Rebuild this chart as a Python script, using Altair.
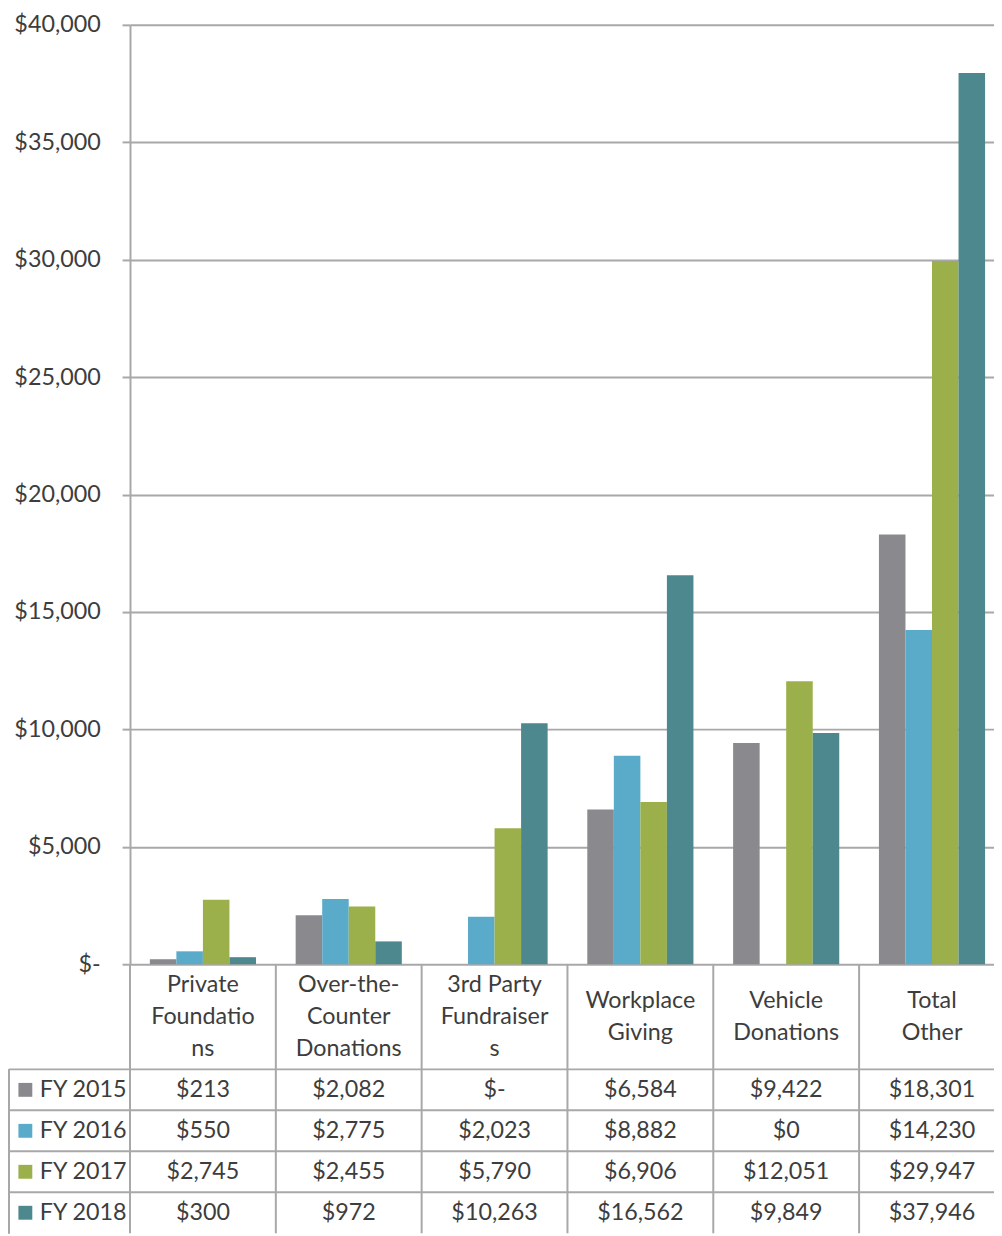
import altair as alt
import pandas as pd

# ---- data ----
series = ["FY 2015", "FY 2016", "FY 2017", "FY 2018"]
categories = ["Private Foundations", "Over-the-Counter Donations", "3rd Party Fundraisers",
              "Workplace Giving", "Vehicle Donations", "Total Other"]
header_labels = ["Private\nFoundatio\nns", "Over-the-\nCounter\nDonations", "3rd Party\nFundraiser\ns",
                 "Workplace\nGiving", "Vehicle\nDonations", "Total\nOther"]
fy2015 = [213, 2082, None, 6584, 9422, 18301]
fy2016 = [550, 2775, 2023, 8882, 0, 14230]
fy2017 = [2745, 2455, 5790, 6906, 12051, 29947]
fy2018 = [300, 972, 10263, 16562, 9849, 37946]
y_ticks = [0, 5000, 10000, 15000, 20000, 25000, 30000, 35000, 40000]
colors = ["#8a8a8e", "#5aabc9", "#9bb04b", "#4c888e"]

rows = []
for s, vals in zip(series, [fy2015, fy2016, fy2017, fy2018]):
    for c, v in zip(categories, vals):
        rows.append({"category": c, "series": s, "value": v,
                     "label": "$-" if v is None else "${:,.0f}".format(v)})
df = pd.DataFrame(rows)
cat_df = pd.DataFrame({"category": categories, "header": header_labels,
                       "nlines": [h.count("\n") + 1 for h in header_labels]})
ser_df = pd.DataFrame({"series": series})

# ---- layout ----
W, H = 871, 947
STEP = 147
XR = STEP * len(categories)
PI = 40 / STEP
PO = 20 / STEP
HEADER_H = 106
ROW_H = 41.3
TABLE_H = HEADER_H + ROW_H * 4
LEFT = 122
LH = 32.5
FONT = "Lato"
FS = 23.5
TXT = "#3d3d3d"
GRID = "#a8a8a8"

x_scale = alt.Scale(domain=categories, range=[0, XR], paddingInner=PI, paddingOuter=PO)
r0 = H + HEADER_H + ROW_H / 2
row_scale = alt.Scale(type="point", domain=series, range=[r0, r0 + 3 * ROW_H], padding=0)
color_scale = alt.Scale(domain=series, range=colors)

bars = alt.Chart(df).mark_bar().encode(
    x=alt.X("category:N", scale=x_scale, axis=None),
    xOffset=alt.XOffset("series:N", scale=alt.Scale(domain=series, paddingInner=0, paddingOuter=0)),
    y=alt.Y("value:Q", scale=alt.Scale(domain=[0, 40000], nice=False, zero=True),
            axis=alt.Axis(values=y_ticks, title=None, grid=True, gridColor=GRID, gridWidth=2,
                          domainColor=GRID, domainWidth=2, tickColor=GRID, tickWidth=2, tickSize=8,
                          labelFont=FONT, labelFontSize=FS, labelColor=TXT, labelPadding=22,
                          labelExpr="datum.value == 0 ? '$-\u00a0\u00a0\u00a0' : '$' + format(datum.value, ',')")),
    color=alt.Color("series:N", scale=color_scale, legend=None),
)

vrules = alt.Chart(cat_df).mark_rule(color=GRID, strokeWidth=2, xOffset=-PO * STEP).encode(
    x=alt.X("category:N", scale=x_scale, axis=None, bandPosition=0),
    y=alt.value(H),
    y2=alt.value(H + TABLE_H),
)

leftrule = alt.Chart(cat_df).mark_rule(color=GRID, strokeWidth=2).encode(
    x=alt.value(-LEFT),
    y=alt.value(H + HEADER_H),
    y2=alt.value(H + TABLE_H),
)

hrules = alt.Chart(ser_df).mark_rule(color=GRID, strokeWidth=2, yOffset=-ROW_H / 2).encode(
    y=alt.Y("series:N", scale=row_scale, axis=None),
    x=alt.value(-LEFT),
    x2=alt.value(XR),
)


def header_layer(n):
    return alt.Chart(cat_df).transform_filter(alt.datum.nlines == n).mark_text(
        font=FONT, fontSize=FS, color=TXT, lineBreak="\n", lineHeight=LH,
        align="center", baseline="middle").encode(
        x=alt.X("category:N", scale=x_scale, axis=None),
        y=alt.value(H + HEADER_H / 2 - (n - 1) * LH / 2),
        text="header:N",
    )


squares = alt.Chart(ser_df).mark_square(size=196, opacity=1).encode(
    x=alt.value(-LEFT + 16.5),
    y=alt.Y("series:N", scale=row_scale, axis=None),
    color=alt.Color("series:N", scale=color_scale, legend=None),
)

legend_text = alt.Chart(ser_df).mark_text(
    font=FONT, fontSize=FS, color=TXT, align="left", baseline="middle").encode(
    x=alt.value(-LEFT + 31),
    y=alt.Y("series:N", scale=row_scale, axis=None),
    text="series:N",
)

values_text = alt.Chart(df).mark_text(
    font=FONT, fontSize=FS, color=TXT, align="center", baseline="middle").encode(
    x=alt.X("category:N", scale=x_scale, axis=None),
    y=alt.Y("series:N", scale=row_scale, axis=None),
    text="label:N",
)

chart = alt.layer(
    bars, vrules, leftrule, hrules, header_layer(3), header_layer(2),
    squares, legend_text, values_text
).resolve_scale(
    y="independent"
).properties(
    width=W, height=H,
    padding={"left": 123, "top": 12, "right": 0, "bottom": 270},
    autosize=alt.AutoSizeParams(type="none"),
).configure_view(stroke=None)

chart.save("out.html", embed_options={"renderer": "svg", "actions": False})
